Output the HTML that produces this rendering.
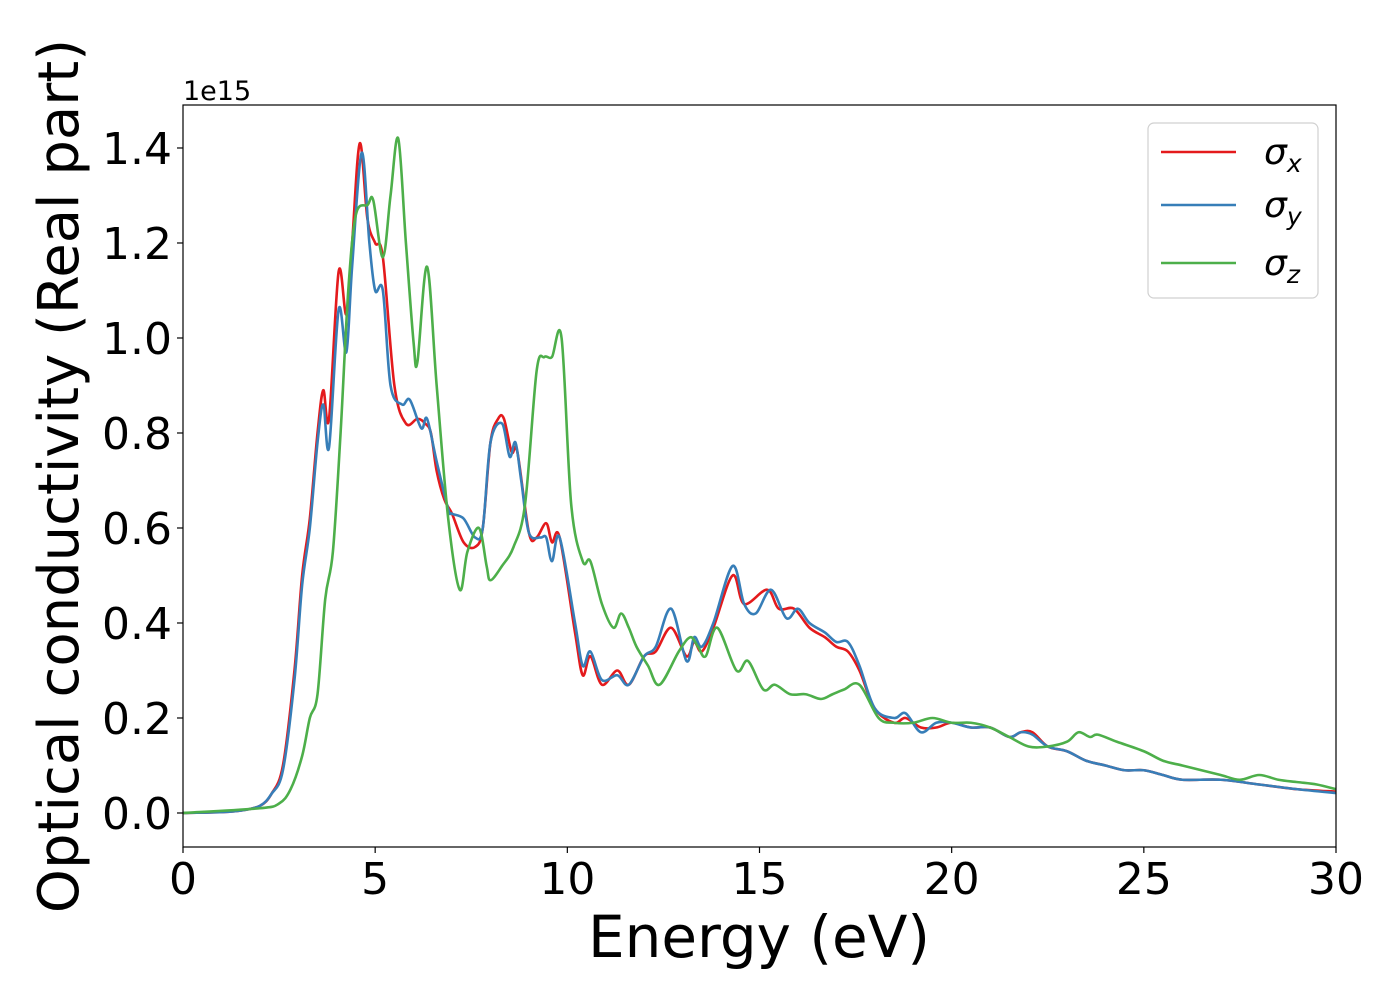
<!DOCTYPE html>
<html><head><meta charset="utf-8"><style>
html,body{margin:0;padding:0;background:#fff;width:1400px;height:1000px;overflow:hidden}
svg{display:block;font-family:"DejaVu Sans","Liberation Sans",sans-serif}
</style></head><body>
<svg id="chart" width="1400" height="1000" viewBox="0 0 1400 1000">
<g id="plot"></g>
</svg>
<script>
const energyX=[0,1,1.5,2,2.3,2.6,2.9,3.1,3.3,3.5,3.65,3.8,4.05,4.25,4.4,4.6,4.8,5.0,5.2,5.5,5.8,6.1,6.3,6.45,6.6,6.8,7.0,7.3,7.6,7.8,8.0,8.2,8.35,8.55,8.7,9.0,9.2,9.45,9.6,9.8,10.2,10.4,10.6,10.9,11.3,11.6,12.0,12.3,12.7,13.1,13.3,13.5,13.8,14.3,14.6,15.2,15.5,15.9,16.3,16.7,17.0,17.3,17.6,18.0,18.5,18.8,19.2,19.6,20,20.5,21,21.5,21.8,22.1,22.5,23,23.5,24,24.5,25,25.5,26,27,28,29,30];
const sigmaX=[0,0.002,0.005,0.015,0.04,0.1,0.3,0.5,0.62,0.8,0.89,0.83,1.14,1.05,1.2,1.41,1.25,1.2,1.17,0.9,0.82,0.83,0.82,0.8,0.72,0.66,0.63,0.57,0.56,0.6,0.78,0.83,0.83,0.76,0.76,0.59,0.58,0.61,0.57,0.58,0.38,0.29,0.33,0.27,0.3,0.27,0.33,0.34,0.39,0.33,0.36,0.34,0.39,0.5,0.44,0.47,0.43,0.43,0.39,0.37,0.35,0.34,0.3,0.22,0.19,0.2,0.18,0.18,0.19,0.18,0.18,0.16,0.17,0.17,0.14,0.13,0.11,0.1,0.09,0.09,0.08,0.07,0.07,0.06,0.05,0.045];
const energyY=[0,1,1.5,2,2.3,2.6,2.9,3.1,3.3,3.5,3.65,3.8,4.05,4.25,4.4,4.65,4.85,5.0,5.2,5.4,5.7,5.9,6.2,6.35,6.6,6.9,7.0,7.3,7.6,7.8,8.0,8.3,8.5,8.65,8.8,9.0,9.3,9.45,9.6,9.8,10.2,10.4,10.6,10.9,11.3,11.6,12.0,12.3,12.7,13.1,13.3,13.5,13.8,14.3,14.6,14.9,15.3,15.7,16.0,16.3,16.7,17.0,17.3,17.6,18.0,18.5,18.8,19.2,19.6,20,20.5,21,21.5,21.8,22.1,22.5,23,23.5,24,24.5,25,25.5,26,27,28,29,30];
const sigmaY=[0,0.002,0.005,0.015,0.04,0.09,0.28,0.48,0.6,0.78,0.86,0.77,1.06,0.97,1.15,1.39,1.2,1.1,1.1,0.9,0.86,0.87,0.81,0.83,0.74,0.64,0.63,0.62,0.58,0.6,0.78,0.82,0.75,0.78,0.7,0.59,0.58,0.58,0.53,0.58,0.4,0.31,0.34,0.28,0.29,0.27,0.33,0.35,0.43,0.32,0.37,0.35,0.4,0.52,0.44,0.42,0.47,0.41,0.43,0.4,0.38,0.36,0.36,0.31,0.22,0.2,0.21,0.17,0.19,0.19,0.18,0.18,0.16,0.17,0.165,0.14,0.13,0.11,0.1,0.09,0.09,0.08,0.07,0.07,0.06,0.05,0.042];
const energyZ=[0,2,2.5,2.8,3.1,3.3,3.5,3.7,3.9,4.1,4.3,4.5,4.8,4.95,5.2,5.4,5.6,5.8,6.0,6.1,6.35,6.6,6.9,7.2,7.4,7.7,7.9,8.0,8.3,8.6,8.9,9.2,9.4,9.6,9.85,10.1,10.4,10.6,10.9,11.2,11.4,11.6,11.8,12.1,12.4,12.9,13.2,13.4,13.6,13.9,14.4,14.7,15.1,15.4,15.8,16.2,16.6,16.9,17.2,17.6,18.1,18.5,19,19.5,20,20.5,21,21.5,22,22.5,23,23.3,23.6,23.8,24.3,25,25.5,26,26.5,27,27.5,28,28.5,29,29.5,30];
const sigmaZ=[0,0.01,0.02,0.05,0.12,0.2,0.25,0.45,0.55,0.8,1.1,1.26,1.28,1.29,1.17,1.3,1.42,1.2,0.99,0.95,1.15,0.9,0.62,0.47,0.55,0.6,0.52,0.49,0.52,0.56,0.65,0.93,0.96,0.96,1.0,0.65,0.53,0.53,0.44,0.39,0.42,0.39,0.35,0.31,0.27,0.34,0.37,0.35,0.33,0.39,0.3,0.32,0.26,0.27,0.25,0.25,0.24,0.25,0.26,0.27,0.2,0.19,0.19,0.2,0.19,0.19,0.18,0.16,0.14,0.14,0.15,0.17,0.16,0.165,0.15,0.13,0.11,0.1,0.09,0.08,0.07,0.08,0.07,0.065,0.06,0.05];
const xTicks=[0,5,10,15,20,25,30];
const yTicks=[0,0.2,0.4,0.6,0.8,1.0,1.2,1.4];
const yTickLabels=["0.0","0.2","0.4","0.6","0.8","1.0","1.2","1.4"];
const seriesNames=["x","y","z"];

const L=183,R=1336,T=105,B=847,XMIN=0,XMAX=30,YMIN=-0.0716,YMAX=1.4905;
const sx=v=>L+(v-XMIN)/(XMAX-XMIN)*(R-L);
const sy=v=>B-(v-YMIN)/(YMAX-YMIN)*(B-T);
const NS="http://www.w3.org/2000/svg";
const svg=document.getElementById('chart');
function mk(tag,attrs,parent){const e=document.createElementNS(NS,tag);for(const k in attrs)e.setAttribute(k,attrs[k]);(parent||svg).appendChild(e);return e;}
function smooth(xs,ys){
  const p=xs.map((x,i)=>[sx(x),sy(ys[i])]);
  let d=`M${p[0][0]},${p[0][1]}`;
  for(let i=0;i<p.length-1;i++){
    const p0=p[Math.max(i-1,0)],p1=p[i],p2=p[i+1],p3=p[Math.min(i+2,p.length-1)];
    const c1=[p1[0]+(p2[0]-p0[0])/6,p1[1]+(p2[1]-p0[1])/6];
    const c2=[p2[0]-(p3[0]-p1[0])/6,p2[1]-(p3[1]-p1[1])/6];
    d+=`C${c1[0]},${c1[1]} ${c2[0]},${c2[1]} ${p2[0]},${p2[1]}`;
  }
  return d;
}
const defs=mk('defs',{});
const cp=mk('clipPath',{id:'clip'},defs);
mk('rect',{x:L,y:T,width:R-L,height:B-T},cp);
const plot=document.getElementById('plot');
plot.setAttribute('clip-path','url(#clip)');
const colors=["#e41a1c","#377eb8","#4daf4a"];
const sets=[[energyX,sigmaX],[energyY,sigmaY],[energyZ,sigmaZ]];
sets.forEach((s,i)=>{
  const path=mk('path',{d:smooth(s[0],s[1]),fill:'none',stroke:colors[i],'stroke-width':2.6,'stroke-linejoin':'round'},plot);
  
  
});
const frame=mk('rect',{x:L,y:T,width:R-L,height:B-T,fill:'none',stroke:'#000','stroke-width':1.2});


xTicks.forEach(v=>{
  const tk=mk('line',{x1:sx(v),x2:sx(v),y1:B,y2:B+6,stroke:'#000','stroke-width':1.2});
  
  
  const t=mk('text',{x:sx(v),y:894,'text-anchor':'middle','font-size':44,fill:'#000'});
  t.textContent=String(v);
  
  
});
yTicks.forEach((v,i)=>{
  const tk=mk('line',{x1:L-6,x2:L,y1:sy(v),y2:sy(v),stroke:'#000','stroke-width':1.2});
  
  
  const t=mk('text',{x:172,y:sy(v)+16,'text-anchor':'end','font-size':44,fill:'#000'});
  t.textContent=yTickLabels[i];
  
  
});
</script>
<svg width="0" height="0" style="position:absolute"></svg>
<script>
(function(){
const svg=document.getElementById('chart');
svg.insertAdjacentHTML('beforeend',`
<text x="183" y="100" font-size="27">1e15</text>
<text x="759" y="957" text-anchor="middle" font-size="58">Energy (eV)</text>
<text transform="translate(78,476) rotate(-90)" text-anchor="middle" font-size="56">Optical conductivity (Real part)</text>
<g>
<rect x="1148" y="123" width="170" height="175" rx="6" fill="#fff" stroke="#d0d0d0" stroke-width="1.2"/>
<g><line x1="1161" x2="1236" y1="152" y2="152" stroke="#e41a1c" stroke-width="2.6"/><text x="1264" y="164" font-size="36" font-style="italic">σ<tspan font-size="25" dy="8">x</tspan></text></g>
<g><line x1="1161" x2="1236" y1="205" y2="205" stroke="#377eb8" stroke-width="2.6"/><text x="1264" y="217" font-size="36" font-style="italic">σ<tspan font-size="25" dy="8">y</tspan></text></g>
<g><line x1="1161" x2="1236" y1="263" y2="263" stroke="#4daf4a" stroke-width="2.6"/><text x="1264" y="275" font-size="36" font-style="italic">σ<tspan font-size="25" dy="8">z</tspan></text></g>
</g>`);
})();
</script>
</body></html>
